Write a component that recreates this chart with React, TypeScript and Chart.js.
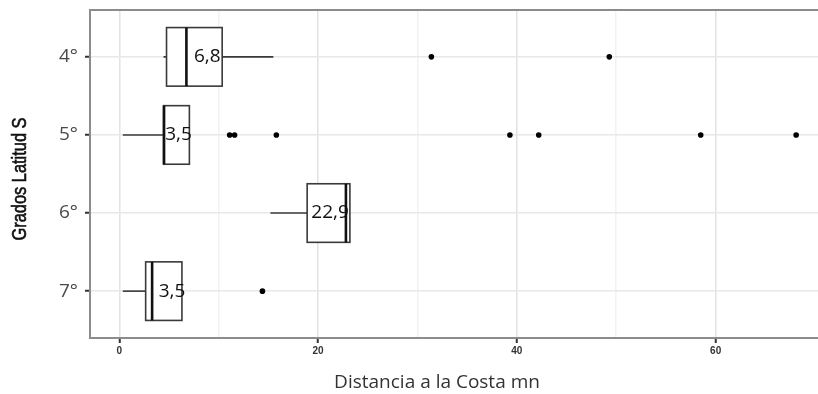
import React, { useEffect, useRef } from 'react';
import { Chart, registerables } from 'chart.js';

Chart.register(...registerables);

// ---- data ----
const categories = ['4°', '5°', '6°', '7°'];
const whiskerLow = [4.45, 0.35, 15.2, 0.35];
const q1 = [4.75, 4.45, 18.9, 2.65];
const median = [6.75, 4.5, 22.8, 3.3];
const q3 = [10.35, 7.05, 23.2, 6.3];
const whiskerHigh = [15.5, 7.05, 23.2, 6.3];
const medianLabels = ['6,8', '3,5', '22,9', '3,5'];
const labelAt = [8.85, 5.95, 21.2, 5.3];
const outliers4 = [31.4, 49.3];
const outliers5 = [11.1, 11.6, 15.8, 39.3, 42.2, 58.5, 68.1];
const outliers6: number[] = [];
const outliers7 = [14.4];
const outlierSets = [outliers4, outliers5, outliers6, outliers7];
const xTicks = [0, 10, 20, 30, 40, 50, 60];
const xLabelTicks = [0, 20, 40, 60];
const xTitle = 'Distancia a la Costa mn';
const yTitle = 'Grados Latitud S';

const BOX_HALF = 0.375;

const boxPlugin = {
  id: 'boxplots',
  beforeDatasetsDraw(chart: any) {
    const { ctx, scales } = chart;
    const x = scales.x;
    const y = scales.y;
    ctx.save();
    categories.forEach((_c, i) => {
      const pos = i + 1;
      const yc = y.getPixelForValue(pos);
      const yt = y.getPixelForValue(pos - BOX_HALF);
      const yb = y.getPixelForValue(pos + BOX_HALF);
      const xl = x.getPixelForValue(q1[i]);
      const xr = x.getPixelForValue(q3[i]);
      const wl = x.getPixelForValue(whiskerLow[i]);
      const wh = x.getPixelForValue(whiskerHigh[i]);
      const xm = x.getPixelForValue(median[i]);
      ctx.strokeStyle = '#3a3a3a';
      ctx.lineWidth = 1.6;
      ctx.beginPath();
      if (wl < xl) {
        ctx.moveTo(wl, yc);
        ctx.lineTo(xl, yc);
      }
      if (wh > xr) {
        ctx.moveTo(xr, yc);
        ctx.lineTo(wh, yc);
      }
      ctx.stroke();
      ctx.fillStyle = '#ffffff';
      ctx.fillRect(xl, yt, xr - xl, yb - yt);
      ctx.strokeStyle = '#3a3a3a';
      ctx.lineWidth = 1.6;
      ctx.strokeRect(xl, yt, xr - xl, yb - yt);
      ctx.strokeStyle = '#111111';
      ctx.lineWidth = 2.6;
      ctx.beginPath();
      ctx.moveTo(xm, yt);
      ctx.lineTo(xm, yb);
      ctx.stroke();
    });
    ctx.restore();
  },
  afterDatasetsDraw(chart: any) {
    const { ctx, scales } = chart;
    const x = scales.x;
    const y = scales.y;
    ctx.save();
    ctx.fillStyle = '#111111';
    ctx.font = '19px "Open Sans", sans-serif';
    ctx.textAlign = 'center';
    ctx.textBaseline = 'middle';
    medianLabels.forEach((t, i) => {
      ctx.fillText(t, x.getPixelForValue(labelAt[i]), y.getPixelForValue(i + 1));
    });
    ctx.restore();
  },
  afterDraw(chart: any) {
    const { ctx, chartArea } = chart;
    ctx.save();
    // top panel border
    ctx.strokeStyle = '#8c8c8c';
    ctx.lineWidth = 2;
    ctx.beginPath();
    ctx.moveTo(chartArea.left - 1, chartArea.top);
    ctx.lineTo(chartArea.right, chartArea.top);
    ctx.stroke();
    // x axis title
    ctx.fillStyle = '#333333';
    ctx.font = '19px "Open Sans", sans-serif';
    ctx.textAlign = 'center';
    ctx.textBaseline = 'middle';
    ctx.fillText(xTitle, chartArea.left + 347, chartArea.bottom + 45);
    // y axis title (narrow)
    ctx.translate(20, (chartArea.top + chartArea.bottom) / 2 + 5);
    ctx.rotate(-Math.PI / 2);
    ctx.scale(0.82, 1);
    ctx.fillStyle = '#111111';
    ctx.strokeStyle = '#111111';
    ctx.lineWidth = 0.6;
    ctx.font = '20px "Liberation Sans", Arial, sans-serif';
    ctx.fillText(yTitle, 0, 0);
    ctx.strokeText(yTitle, 0, 0);
    ctx.restore();
  },
};

export default function App() {
  const ref = useRef<HTMLCanvasElement | null>(null);

  useEffect(() => {
    if (!ref.current) return;
    let chart: Chart | null = null;
    let cancelled = false;
    const points: { x: number; y: number }[] = [];
    outlierSets.forEach((set, i) => set.forEach((v) => points.push({ x: v, y: i + 1 })));

    const build = () => {
      if (cancelled || !ref.current) return;
      chart = new Chart(ref.current, {
        type: 'scatter',
        data: {
          datasets: [
            {
              label: 'Atípicos',
              data: points,
              pointRadius: 2.8,
              pointBackgroundColor: '#000000',
              pointBorderWidth: 0,
            },
          ],
        },
        plugins: [boxPlugin],
        options: {
          animation: false,
          responsive: false,
          devicePixelRatio: 1,
          layout: { autoPadding: false, padding: { top: 10, left: 0, right: 0, bottom: 0 } },
          plugins: {
            legend: { display: false },
            tooltip: { enabled: false },
          },
          scales: {
            x: {
              type: 'linear',
              min: -2.95,
              max: 70.3,
              afterBuildTicks: (s: any) => {
                s.ticks = xTicks.map((v) => ({ value: v }));
              },
              afterFit: (s: any) => {
                s.height = 56;
                s.paddingLeft = 0;
                s.paddingRight = 0;
              },
              ticks: {
                autoSkip: false,
                maxRotation: 0,
                padding: 2,
                color: '#333333',
                font: { family: '"Liberation Sans", Arial, sans-serif', size: 10, weight: 'bold' },
                callback: (v: any) => (xLabelTicks.includes(Number(v)) ? String(v) : ''),
              },
              grid: {
                color: (c: any) => (c.tick && xLabelTicks.includes(c.tick.value) ? '#e2e2e8' : '#f2f2f4'),
                lineWidth: 1.5,
                tickLength: 5,
                tickWidth: 2,
                tickColor: (c: any) => (c.tick && xLabelTicks.includes(c.tick.value) ? '#333333' : 'rgba(0,0,0,0)'),
              },
              border: { color: '#8c8c8c', width: 2 },
              title: { display: false },
            },
            y: {
              type: 'linear',
              min: 0.4,
              max: 4.6,
              reverse: true,
              afterBuildTicks: (s: any) => {
                s.ticks = categories.map((_c, i) => ({ value: i + 1 }));
              },
              afterFit: (s: any) => {
                s.width = 90;
                s.paddingTop = 0;
                s.paddingBottom = 0;
              },
              ticks: {
                autoSkip: false,
                padding: 7,
                color: '#4a4a4a',
                font: { family: '"Open Sans", sans-serif', size: 19 },
                callback: (v: any) => categories[Number(v) - 1] ?? '',
              },
              grid: {
                color: '#e8e8e8',
                lineWidth: 1.5,
                tickLength: 5,
                tickWidth: 2,
                tickColor: '#333333',
              },
              border: { color: '#8c8c8c', width: 2 },
              title: { display: false },
            },
          },
        } as any,
      });
    };

    const fonts = ['19px "Open Sans"', 'bold 10px "Liberation Sans"', '20px "Liberation Sans"'];
    Promise.all(fonts.map((f) => document.fonts.load(f)))
      .catch(() => undefined)
      .then(build);

    return () => {
      cancelled = true;
      if (chart) chart.destroy();
    };
  }, []);

  return (
    <div style={{ position: 'fixed', left: 0, top: 0, width: 818, height: 394, background: '#ffffff' }}>
      <canvas ref={ref} width={818} height={394} style={{ display: 'block', width: 818, height: 394 }} />
    </div>
  );
}
